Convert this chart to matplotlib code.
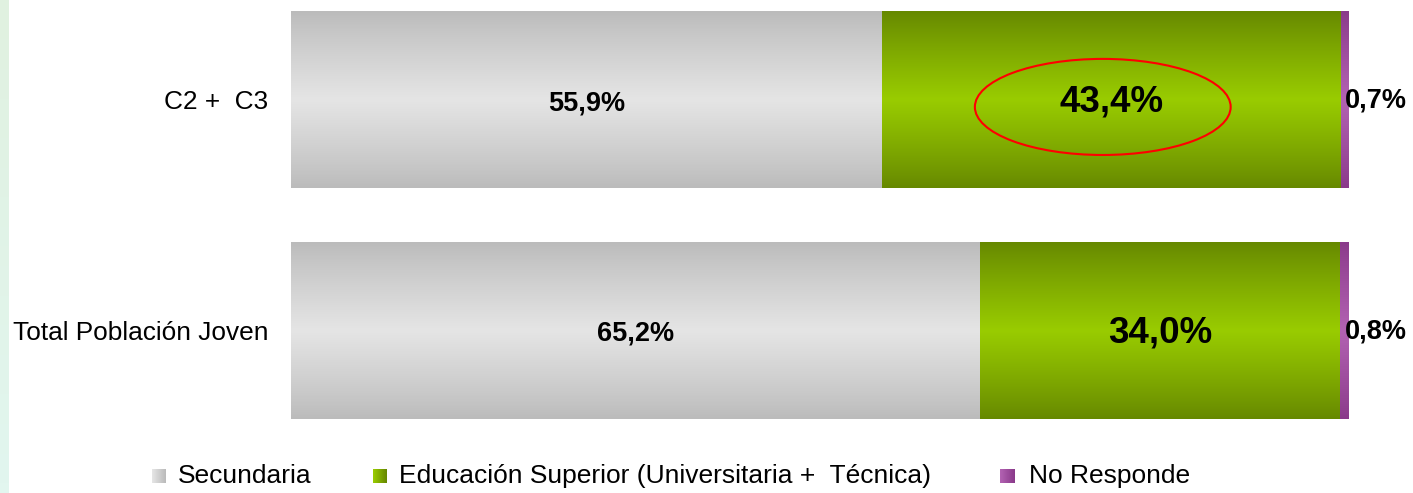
import numpy as np
import matplotlib
matplotlib.use("Agg")
import matplotlib.pyplot as plt
from matplotlib.patches import Ellipse
from matplotlib.colors import LinearSegmentedColormap

categories = ["Total Población Joven", "C2 +  C3"]
series_names = ["Secundaria", "Educación Superior (Universitaria +  Técnica)", "No Responde"]
secundaria = [65.2, 55.9]
superior = [34.0, 43.4]
no_responde = [0.8, 0.7]
labels = [["65,2%", "55,9%"], ["34,0%", "43,4%"], ["0,8%", "0,7%"]]

edge_cols = ["#bbbbbb", "#668800", "#8a3a8a"]
mid_cols = ["#e5e5e5", "#99cc00", "#b262b2"]

plt.rcParams['font.family'] = ['Liberation Sans', 'DejaVu Sans']

W, H = 1413, 493
fig = plt.figure(figsize=(W / 100, H / 100), dpi=100)

# light strip on the left edge
strip = fig.add_axes([0, 0, 9 / W, 1])
strip.imshow(np.linspace(0, 1, 50).reshape(-1, 1), aspect='auto',
             cmap=LinearSegmentedColormap.from_list('s', ['#e0f1e0', '#e2f6ef']),
             extent=[0, 1, 0, 1], origin='upper')
strip.axis('off')

ax = fig.add_axes([291 / W, (H - 440) / H, 1057 / W, 440 / H])

y = np.arange(len(categories))
bar_h = 0.766
t = np.linspace(0, 1, 200)
profile = (1 - np.abs(2 * t - 1)) ** 0.9

data = [secundaria, superior, no_responde]
left = np.zeros(len(categories))
for k, vals in enumerate(data):
    bars = ax.barh(y, vals, left=left, height=bar_h, color=mid_cols[k], linewidth=0)
    cmap = LinearSegmentedColormap.from_list('g%d' % k, [edge_cols[k], mid_cols[k]])
    for b in bars:
        x0, y0 = b.get_x(), b.get_y()
        im = ax.imshow(profile.reshape(-1, 1), cmap=cmap, vmin=0, vmax=1, aspect='auto',
                       extent=[x0, x0 + b.get_width(), y0, y0 + b.get_height()], zorder=2)
        im.set_clip_path(b)
        b.set_alpha(0)
    left = left + np.array(vals)

ax.set_xlim(0, 100)
ax.set_ylim(-0.474, 1.431)

# value labels
for i in range(len(categories)):
    ax.text(secundaria[i] / 2, y[i] - 0.015, labels[0][i], ha='center', va='center',
            fontsize=19.5, fontweight='bold', zorder=5)
    ax.text(secundaria[i] + superior[i] / 2, y[i] - 0.012, labels[1][i], ha='center', va='center',
            fontsize=26.5, fontweight='bold', zorder=5)
    ax.annotate(labels[2][i], xy=(secundaria[i] + superior[i] + no_responde[i], y[i]),
                xytext=(-2.2, -1.0), textcoords='offset points', ha='left', va='center',
                fontsize=19.5, fontweight='bold', zorder=5, annotation_clip=False)

# highlight ellipse
ax.add_patch(Ellipse((76.8, 0.968), 24.2, 0.416, fill=False, edgecolor='#ff0000',
                     linewidth=1.5, zorder=6))

ax.set_yticks(y)
ax.set_yticklabels(categories, fontsize=18.9)
ax.tick_params(axis='y', length=0, pad=16.5)
ax.set_xticks([])
for s in ax.spines.values():
    s.set_visible(False)

# legend
leg_sq = [152, 373, 1000]
leg_tx = [178, 399, 1029]
for k in range(3):
    sq = fig.add_axes([leg_sq[k] / W, (H - 483) / H, 14 / W, 14 / H])
    cmap = LinearSegmentedColormap.from_list('l%d' % k, [mid_cols[k], edge_cols[k]])
    sq.imshow(np.linspace(0, 1, 20).reshape(1, -1), cmap=cmap, aspect='auto')
    sq.axis('off')
    fig.text(leg_tx[k] / W, (H - 476) / H, series_names[k], ha='left', va='center', fontsize=19)

fig.savefig("out.png", dpi=100)
